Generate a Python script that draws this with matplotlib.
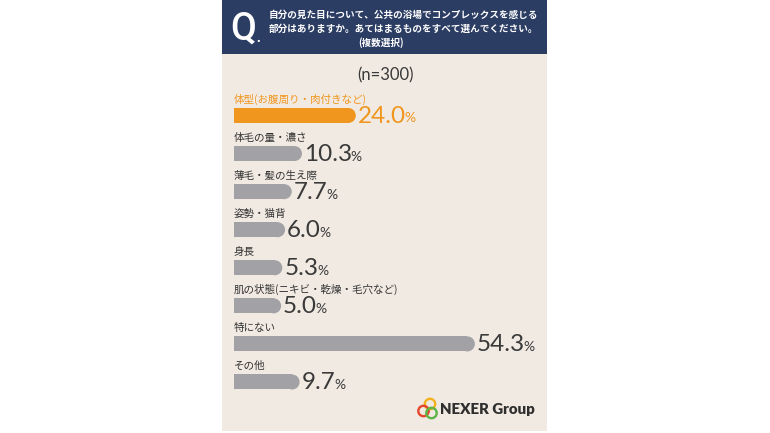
import matplotlib
matplotlib.use("Agg")
import matplotlib.pyplot as plt
from matplotlib.patches import Rectangle, Ellipse, Circle

# ---------------- data ----------------
categories = [
    "体型(お腹周り・肉付きなど)",
    "体毛の量・濃さ",
    "薄毛・髪の生え際",
    "姿勢・猫背",
    "身長",
    "肌の状態(ニキビ・乾燥・毛穴など)",
    "特にない",
    "その他",
]
values = [24.0, 10.3, 7.7, 6.0, 5.3, 5.0, 54.3, 9.7]
highlight_index = 0
question_lines = [
    "自分の見た目について、公共の浴場でコンプレックスを感じる",
    "部分はありますか。あてはまるものをすべて選んでください。",
    "(複数選択)",
]
sample_label = "(n=300)"
brand = "NEXER Group"

# ---------------- style ----------------
W, H, DPI = 770, 433, 100
BEIGE = "#F1EAE2"
NAVY = "#2C3D64"
ORANGE = "#F0961E"
GREY = "#A2A2A6"
DARK = "#3A3A3A"
CJK = ["Noto Sans CJK JP", "DejaVu Sans"]
LAT = ["Lato", "DejaVu Sans"]

fig = plt.figure(figsize=(W / DPI, H / DPI), dpi=DPI, facecolor="white")

# decoration layer in pixel units
deco = fig.add_axes([0, 0, 1, 1])
deco.set_xlim(0, W)
deco.set_ylim(H, 0)
deco.axis("off")
deco.add_patch(Rectangle((222, 0), 325, 431, color=BEIGE, lw=0))
deco.add_patch(Rectangle((222, 0), 325, 54, color=NAVY, lw=0))

deco.text(230.5, 39.5, "Q", color="white", fontsize=27, fontweight="medium",
          family=["Roboto", "DejaVu Sans"], ha="left", va="baseline")
deco.text(256, 42, ".", color="white", fontsize=11, fontweight="bold",
          family=LAT, ha="left", va="baseline")
for line, xc, yc in zip(question_lines, [403, 403, 381], [15, 29, 43]):
    deco.text(xc, yc, line, color="white", fontsize=6.9, fontweight="bold",
              family=CJK, ha="center", va="center")

deco.text(385, 75, sample_label, color=DARK, fontsize=12, family=LAT,
          ha="center", va="center")

# logo
deco.add_patch(Circle((430, 404), 5.2, fill=False, lw=1.7, ec="#F3B11E"))
deco.add_patch(Circle((423.5, 411), 5.2, fill=False, lw=1.7, ec="#E5462C"))
deco.add_patch(Circle((431.5, 413), 5.2, fill=False, lw=1.7, ec="#5DB447"))
deco.text(440, 410, brand, color="#2F2F2F", fontsize=10.8, fontweight="heavy",
          family=LAT, ha="left", va="center")

# ---------------- bars ----------------
ax_left_px, ax_right_px = 234, 546
row_px = 38.07
first_center_px = 115.5
top_px = first_center_px - row_px / 2
n = len(categories)
ax_h_px = row_px * n
ax = fig.add_axes([ax_left_px / W, (H - (top_px + ax_h_px)) / H,
                   (ax_right_px - ax_left_px) / W, ax_h_px / H])
ax.patch.set_alpha(0)
ax.axis("off")
x0, x1 = -7.0, 72.4
ax.set_xlim(x0, x1)
ax.set_ylim(n - 0.5, -0.5)

px_per_x = (ax_right_px - ax_left_px) / (x1 - x0)
bar_h_px = 15
bar_h = bar_h_px / row_px
r_x = (bar_h_px / 2) / px_per_x
pt = 0.72  # points per pixel

for i, (cat, v) in enumerate(zip(categories, values)):
    c = ORANGE if i == highlight_index else GREY
    tc = ORANGE if i == highlight_index else DARK
    ax.barh(i, (v - r_x) - x0, left=x0, height=bar_h, color=c, lw=0)
    ax.add_patch(Ellipse((v - r_x, i), 2 * r_x, bar_h, color=c, lw=0))
    ax.annotate(cat, xy=(x0, i), xytext=(0, 16 * pt), textcoords="offset points",
                ha="left", va="center", fontsize=7.6, family=CJK,
                color=ORANGE if i == highlight_index else "#333333")
    t = ax.annotate(f"{v:.1f}", xy=(v, i), xytext=(2 * pt, -7.5 * pt),
                    textcoords="offset points", ha="left", va="baseline",
                    fontsize=17.5, family=LAT, color=tc)
    ax.annotate("%", xy=(1, 0), xycoords=t, xytext=(-1.0, 1.8),
                textcoords="offset points", ha="left", va="bottom",
                fontsize=10, family=LAT, color=tc)

fig.savefig("out.png", dpi=DPI, facecolor="white")
